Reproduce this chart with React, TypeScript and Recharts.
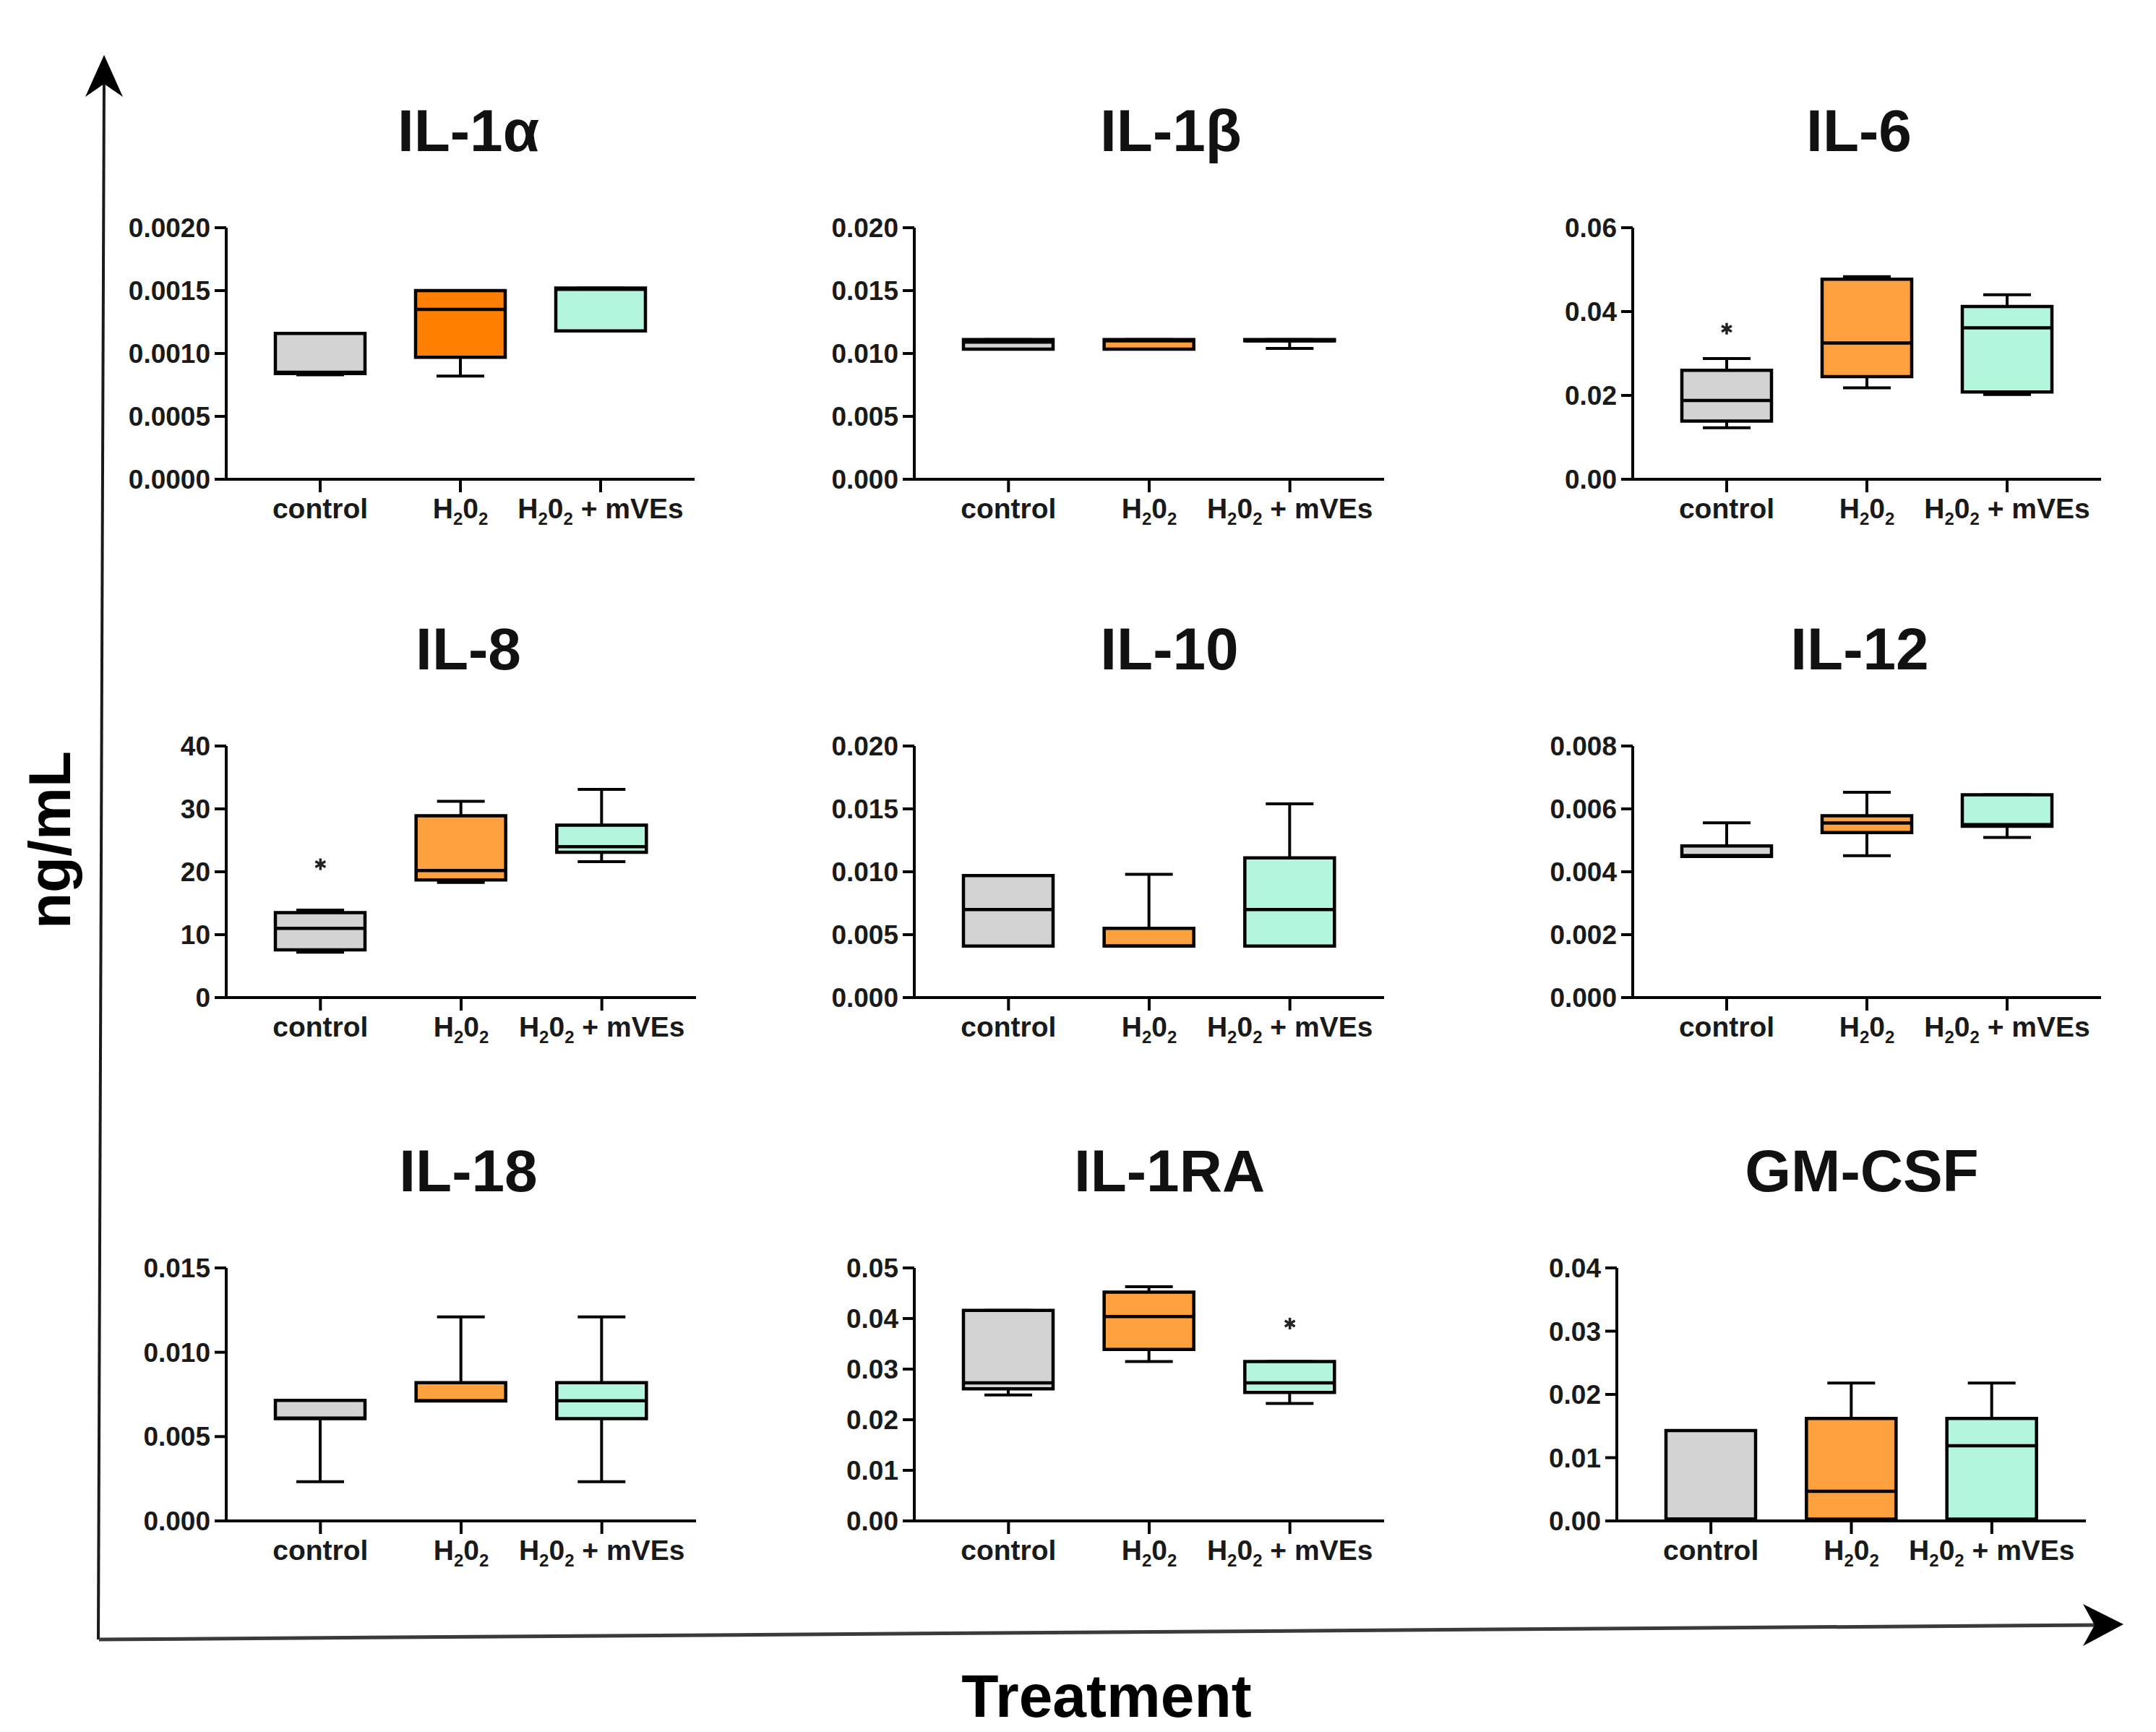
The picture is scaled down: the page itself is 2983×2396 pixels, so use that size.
import React from "react";
import { ComposedChart, Bar, Scatter, XAxis, YAxis, Cell } from "recharts";

const GROUPS = ["control", "H202", "H202 + mVEs"];

// five-number summaries per group: [min, q1, median, q3, max]
const IL1A = [
  [0.00083, 0.00084, 0.00085, 0.00116, 0.00116],
  [0.00082, 0.00097, 0.00135, 0.0015, 0.0015],
  [0.00118, 0.00118, 0.00151, 0.00152, 0.00152],
];
const IL1B = [
  [0.01035, 0.01035, 0.0109, 0.0111, 0.0111],
  [0.01035, 0.01035, 0.011, 0.0111, 0.0111],
  [0.0104, 0.011, 0.011, 0.0111, 0.0111],
];
const IL6 = [
  [0.0123, 0.0139, 0.0188, 0.026, 0.0288],
  [0.0218, 0.0245, 0.0325, 0.0477, 0.0483],
  [0.0202, 0.0208, 0.0361, 0.0412, 0.044],
];
const IL8 = [
  [7.2, 7.6, 11.0, 13.5, 13.9],
  [18.3, 18.7, 20.2, 28.9, 31.2],
  [21.6, 23.1, 24.0, 27.4, 33.1],
];
const IL10 = [
  [0.0041, 0.0041, 0.007, 0.0097, 0.0097],
  [0.0041, 0.0041, 0.0041, 0.0055, 0.0098],
  [0.0041, 0.0041, 0.007, 0.0111, 0.0154],
];
const IL12 = [
  [0.00449, 0.00449, 0.00452, 0.00482, 0.00556],
  [0.00451, 0.00525, 0.00555, 0.00578, 0.00653],
  [0.00509, 0.00545, 0.0055, 0.00645, 0.00645],
];
const IL18 = [
  [0.00232, 0.00606, 0.0061, 0.00715, 0.00715],
  [0.00711, 0.00711, 0.00712, 0.0082, 0.0121],
  [0.00232, 0.00606, 0.00712, 0.0082, 0.0121],
];
const IL1RA = [
  [0.0249, 0.0261, 0.0273, 0.0416, 0.0416],
  [0.0315, 0.0339, 0.0404, 0.0452, 0.0463],
  [0.0232, 0.0254, 0.0273, 0.0315, 0.0315],
];
const GMCSF = [
  [0, 0.0003, 0.0003, 0.0143, 0.0143],
  [0, 0.0003, 0.0047, 0.0162, 0.0218],
  [0, 0.0003, 0.0119, 0.0162, 0.0218],
];

// outliers drawn as asterisks
const NO_OUT = [null, null, null];
const IL6_OUT = [0.0359, null, null];
const IL8_OUT = [21.2, null, null];
const IL1RA_OUT = [null, null, 0.039];

// y-axis ticks
const T_IL1A = [0, 0.0005, 0.001, 0.0015, 0.002];
const T_020 = [0, 0.005, 0.01, 0.015, 0.02];
const T_IL6 = [0, 0.02, 0.04, 0.06];
const T_IL8 = [0, 10, 20, 30, 40];
const T_IL12 = [0, 0.002, 0.004, 0.006, 0.008];
const T_IL18 = [0, 0.005, 0.01, 0.015];
const T_IL1RA = [0, 0.01, 0.02, 0.03, 0.04, 0.05];
const T_GMCSF = [0, 0.01, 0.02, 0.03, 0.04];

const GRAY = "#D3D3D3";
const ORANGE = "#FFA03F";
const ORANGE_DARK = "#FF8000";
const MINT = "#B3F6DD";
const BASE_COLORS = [GRAY, ORANGE, MINT];

const FONT = '"Liberation Sans", Arial, Helvetica, sans-serif';
const BOX = 124;
const CAP = 66;
const LEFT_SPACE = 200;
const TOP_SPACE = 20;
const BOTTOM_SPACE = 90;
const RIGHT_SPACE = 30;

const PANELS = [
  { title: "IL-1α", stats: IL1A, out: NO_OUT, ticks: T_IL1A, dec: 4, left: 313, top: 315, w: 648, h: 348, titleX: 648, colors: [GRAY, ORANGE_DARK, MINT] },
  { title: "IL-1β", stats: IL1B, out: NO_OUT, ticks: T_020, dec: 3, left: 1265, top: 315, w: 650, h: 348, titleX: 1620, colors: BASE_COLORS },
  { title: "IL-6", stats: IL6, out: IL6_OUT, ticks: T_IL6, dec: 2, left: 2259, top: 315, w: 648, h: 348, titleX: 2572, colors: BASE_COLORS },
  { title: "IL-8", stats: IL8, out: IL8_OUT, ticks: T_IL8, dec: 0, left: 313, top: 1032, w: 650, h: 348, titleX: 648, colors: BASE_COLORS },
  { title: "IL-10", stats: IL10, out: NO_OUT, ticks: T_020, dec: 3, left: 1265, top: 1032, w: 650, h: 348, titleX: 1618, colors: BASE_COLORS },
  { title: "IL-12", stats: IL12, out: NO_OUT, ticks: T_IL12, dec: 3, left: 2259, top: 1032, w: 648, h: 348, titleX: 2573, colors: BASE_COLORS },
  { title: "IL-18", stats: IL18, out: NO_OUT, ticks: T_IL18, dec: 3, left: 313, top: 1754, w: 650, h: 350, titleX: 648, colors: BASE_COLORS },
  { title: "IL-1RA", stats: IL1RA, out: IL1RA_OUT, ticks: T_IL1RA, dec: 2, left: 1265, top: 1754, w: 650, h: 350, titleX: 1618, colors: BASE_COLORS },
  { title: "GM-CSF", stats: GMCSF, out: NO_OUT, ticks: T_GMCSF, dec: 2, left: 2237, top: 1754, w: 649, h: 350, titleX: 2576, colors: BASE_COLORS },
];

function Whisker(props: any) {
  const { x, y, width, height } = props;
  if (!Number.isFinite(x) || !Number.isFinite(y)) return <g />;
  const cx = x + width / 2;
  const h = CAP / 2;
  return (
    <g stroke="#000" strokeWidth={4} fill="none">
      <line x1={cx} y1={y} x2={cx} y2={y + height} />
      <line x1={cx - h} y1={y} x2={cx + h} y2={y} />
      <line x1={cx - h} y1={y + height} x2={cx + h} y2={y + height} />
    </g>
  );
}

function MedianMark(props: any) {
  const { cx, cy } = props;
  if (!Number.isFinite(cx) || !Number.isFinite(cy)) return <g />;
  return <line x1={cx - BOX / 2} x2={cx + BOX / 2} y1={cy} y2={cy} stroke="#000" strokeWidth={4.5} />;
}

function OutlierMark(props: any) {
  const { cx, cy, payload } = props;
  if (payload == null || payload.outlier == null || !Number.isFinite(cy)) return <g />;
  const r = 8;
  return (
    <g stroke="#222" strokeWidth={3.5}>
      <line x1={cx} y1={cy - r} x2={cx} y2={cy + r} />
      <line x1={cx - r * 0.87} y1={cy - r / 2} x2={cx + r * 0.87} y2={cy + r / 2} />
      <line x1={cx - r * 0.87} y1={cy + r / 2} x2={cx + r * 0.87} y2={cy - r / 2} />
    </g>
  );
}

function GroupTick(props: any) {
  const { x, y, payload } = props;
  const label: string = payload.value;
  const style = { fontFamily: FONT, fontWeight: "bold" as const, fill: "#1a1a1a" };
  if (!label.startsWith("H202")) {
    return (
      <text x={x} y={y + 36} textAnchor="middle" fontSize={39} style={style}>
        {label}
      </text>
    );
  }
  const rest = label.slice(4);
  return (
    <text x={x} y={y + 36} textAnchor="middle" fontSize={39} style={style}>
      H<tspan dy={9} fontSize={24}>2</tspan>
      <tspan dy={-9}>0</tspan>
      <tspan dy={9} fontSize={24}>2</tspan>
      <tspan dy={-9}>{rest}</tspan>
    </text>
  );
}

function ValueTick(props: any) {
  const { x, y, payload, dec } = props;
  return (
    <text x={x} y={y} dy={13} textAnchor="end" fontSize={37} fontFamily={FONT} fontWeight="bold" fill="#1a1a1a">
      {Number(payload.value).toFixed(dec)}
    </text>
  );
}

function Panel({ cfg }: { cfg: any }) {
  const data = GROUPS.map((g, i) => ({
    group: g,
    whisker: [cfg.stats[i][0], cfg.stats[i][4]],
    box: [cfg.stats[i][1], cfg.stats[i][3]],
    median: cfg.stats[i][2],
    outlier: cfg.out[i],
  }));
  const width = LEFT_SPACE + cfg.w + RIGHT_SPACE;
  const height = TOP_SPACE + cfg.h + BOTTOM_SPACE;
  const top = cfg.ticks[cfg.ticks.length - 1];
  const pad = { left: 33, right: 33 };
  return (
    <div style={{ position: "absolute", left: cfg.left - LEFT_SPACE, top: cfg.top - TOP_SPACE }}>
      <ComposedChart
        width={width}
        height={height}
        data={data}
        margin={{ top: TOP_SPACE, right: RIGHT_SPACE, bottom: 0, left: 0 }}
      >
        <XAxis
          xAxisId="main"
          dataKey="group"
          type="category"
          padding={pad}
          interval={0}
          height={BOTTOM_SPACE}
          tickSize={18}
          tickMargin={0}
          axisLine={{ stroke: "#000", strokeWidth: 4 }}
          tickLine={{ stroke: "#000", strokeWidth: 4 }}
          tick={(p: any) => <GroupTick {...p} />}
        />
        <XAxis xAxisId="whisk" dataKey="group" type="category" padding={pad} hide />
        <YAxis
          domain={[0, top]}
          ticks={cfg.ticks}
          interval={0}
          width={LEFT_SPACE}
          allowDataOverflow
          tickSize={16}
          tickMargin={6}
          axisLine={{ stroke: "#000", strokeWidth: 4 }}
          tickLine={{ stroke: "#000", strokeWidth: 4 }}
          tick={(p: any) => <ValueTick {...p} dec={cfg.dec} />}
        />
        <Bar xAxisId="whisk" dataKey="whisker" barSize={BOX} shape={(p: any) => <Whisker {...p} />} isAnimationActive={false} />
        <Bar xAxisId="main" dataKey="box" barSize={BOX} stroke="#000" strokeWidth={4.5} isAnimationActive={false}>
          {data.map((d, i) => (
            <Cell key={d.group} fill={cfg.colors[i]} />
          ))}
        </Bar>
        <Scatter xAxisId="main" dataKey="median" shape={(p: any) => <MedianMark {...p} />} isAnimationActive={false} />
        <Scatter xAxisId="main" dataKey="outlier" shape={(p: any) => <OutlierMark {...p} />} isAnimationActive={false} />
      </ComposedChart>
    </div>
  );
}

export default function App() {
  return (
    <div style={{ position: "absolute", left: 0, top: 0, width: 2983, height: 2396, background: "#fff", overflow: "hidden" }}>
      <svg width={2983} height={2396} style={{ position: "absolute", left: 0, top: 0 }}>
        {/* vertical arrow */}
        <line x1={136} y1={2268} x2={144} y2={110} stroke="#1a1a1a" strokeWidth={4} />
        <path d="M144,76 L170,134 L144,116 L118,134 Z" fill="#000" />
        {/* horizontal arrow */}
        <line x1={137} y1={2268} x2={2905} y2={2248} stroke="#3a3a3a" strokeWidth={5} />
        <path d="M2938,2247 L2882,2277 L2898,2248 L2882,2219 Z" fill="#000" />
        <text
          transform="translate(97,1162) rotate(-90)"
          textAnchor="middle"
          fontSize={82}
          fontWeight="bold"
          fontFamily={FONT}
          fill="#000"
        >
          ng/mL
        </text>
        <text x={1531} y={2375} textAnchor="middle" fontSize={84} fontWeight="bold" fontFamily={FONT} fill="#000">
          Treatment
        </text>
        {PANELS.map((p) => (
          <text key={p.title} x={p.titleX} y={p.top - 106} textAnchor="middle" fontSize={82} fontWeight="bold" fontFamily={FONT} fill="#111">
            {p.title}
          </text>
        ))}
      </svg>
      {PANELS.map((p) => (
        <Panel key={p.title} cfg={p} />
      ))}
    </div>
  );
}
